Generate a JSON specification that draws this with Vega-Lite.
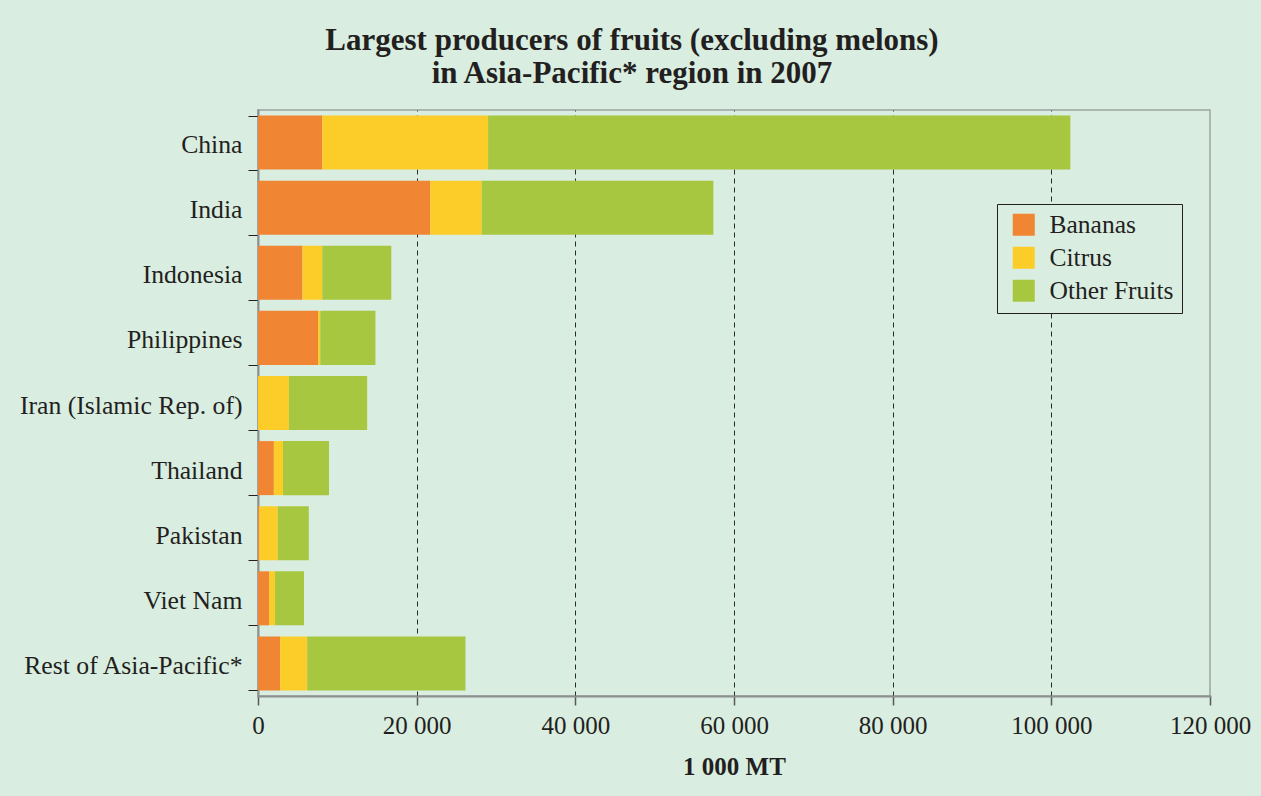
{
  "$schema": "https://vega.github.io/schema/vega-lite/v6.json",
  "width": 952,
  "height": 586,
  "autosize": {"type": "none"},
  "padding": {"left": 258, "top": 110, "right": 51, "bottom": 100},
  "background": "#d9ede0",
  "title": {
    "text": ["Largest producers of fruits (excluding melons)", "in Asia-Pacific* region in 2007"],
    "font": "Liberation Serif",
    "fontSize": 31,
    "fontWeight": "bold",
    "color": "#231f20",
    "lineHeight": 33,
    "anchor": "middle",
    "frame": "group",
    "dx": -102,
    "offset": 7
  },
  "data": {
    "values": [
      {"country": "China", "type": "Bananas", "value": 8100},
      {"country": "China", "type": "Citrus", "value": 20900},
      {"country": "China", "type": "Other Fruits", "value": 73400},
      {"country": "India", "type": "Bananas", "value": 21700},
      {"country": "India", "type": "Citrus", "value": 6500},
      {"country": "India", "type": "Other Fruits", "value": 29200},
      {"country": "Indonesia", "type": "Bananas", "value": 5600},
      {"country": "Indonesia", "type": "Citrus", "value": 2500},
      {"country": "Indonesia", "type": "Other Fruits", "value": 8700},
      {"country": "Philippines", "type": "Bananas", "value": 7600},
      {"country": "Philippines", "type": "Citrus", "value": 250},
      {"country": "Philippines", "type": "Other Fruits", "value": 6950},
      {"country": "Iran (Islamic Rep. of)", "type": "Bananas", "value": 0},
      {"country": "Iran (Islamic Rep. of)", "type": "Citrus", "value": 3900},
      {"country": "Iran (Islamic Rep. of)", "type": "Other Fruits", "value": 9860},
      {"country": "Thailand", "type": "Bananas", "value": 2000},
      {"country": "Thailand", "type": "Citrus", "value": 1150},
      {"country": "Thailand", "type": "Other Fruits", "value": 5800},
      {"country": "Pakistan", "type": "Bananas", "value": 150},
      {"country": "Pakistan", "type": "Citrus", "value": 2350},
      {"country": "Pakistan", "type": "Other Fruits", "value": 3900},
      {"country": "Viet Nam", "type": "Bananas", "value": 1400},
      {"country": "Viet Nam", "type": "Citrus", "value": 750},
      {"country": "Viet Nam", "type": "Other Fruits", "value": 3650},
      {"country": "Rest of Asia-Pacific*", "type": "Bananas", "value": 2800},
      {"country": "Rest of Asia-Pacific*", "type": "Citrus", "value": 3400},
      {"country": "Rest of Asia-Pacific*", "type": "Other Fruits", "value": 19950}
    ]
  },
  "mark": {"type": "bar"},
  "encoding": {
    "y": {
      "field": "country",
      "type": "nominal",
      "sort": ["China", "India", "Indonesia", "Philippines", "Iran (Islamic Rep. of)", "Thailand", "Pakistan", "Viet Nam", "Rest of Asia-Pacific*"],
      "scale": {"paddingInner": 0.17, "paddingOuter": 0.085},
      "axis": {
        "title": null,
        "tickBand": "extent",
        "domainColor": "#8c9190",
        "domainWidth": 2,
        "tickColor": "#231f20",
        "tickSize": 10,
        "tickWidth": 1,
        "labelFont": "Liberation Serif",
        "labelFontSize": 25.7,
        "labelColor": "#231f20",
        "labelPadding": 6,
        "labelOffset": 2,
        "labelLimit": 400
      }
    },
    "x": {
      "field": "value",
      "type": "quantitative",
      "stack": "zero",
      "scale": {"domain": [0, 120000], "nice": false},
      "axis": {
        "values": [0, 20000, 40000, 60000, 80000, 100000, 120000],
        "labelExpr": "replace(format(datum.value, ','), ',', ' ')",
        "labelFlush": false,
        "labelOverlap": false,
        "title": "1 000 MT",
        "titleFont": "Liberation Serif",
        "titleFontSize": 25,
        "titleFontWeight": "bold",
        "titleColor": "#231f20",
        "titlePadding": 16,
        "domainColor": "#8c9190",
        "domainWidth": 2,
        "tickColor": "#55595a",
        "tickSize": 9,
        "tickWidth": 1.5,
        "labelFont": "Liberation Serif",
        "labelFontSize": 25,
        "labelColor": "#231f20",
        "labelPadding": 8,
        "grid": true,
        "gridColor": "#2a2a2a",
        "gridWidth": 1,
        "gridDash": [5, 4],
        "gridOpacity": {"condition": {"test": "datum.value == 0 || datum.value == 120000", "value": 0}, "value": 1}
      }
    },
    "color": {
      "field": "type",
      "type": "nominal",
      "scale": {"domain": ["Bananas", "Citrus", "Other Fruits"], "range": ["#f08533", "#fccd29", "#a6c73f"]},
      "legend": {
        "title": null,
        "orient": "none",
        "legendX": 739,
        "legendY": 94,
        "symbolType": "square",
        "symbolSize": 484,
        "symbolStrokeWidth": 0,
        "symbolOpacity": 1,
        "labelFont": "Liberation Serif",
        "labelFontSize": 25.5,
        "labelColor": "#231f20",
        "labelOffset": 13,
        "rowPadding": 6,
        "padding": 8,
        "strokeColor": "#231f20",
        "fillColor": "#d9ede0",
        "symbolOffset": 6
      }
    }
  },
  "config": {
    "view": {"stroke": "#9ea3a1", "strokeWidth": 1.5},
    "axis": {"domainCap": "square"}
  }
}
